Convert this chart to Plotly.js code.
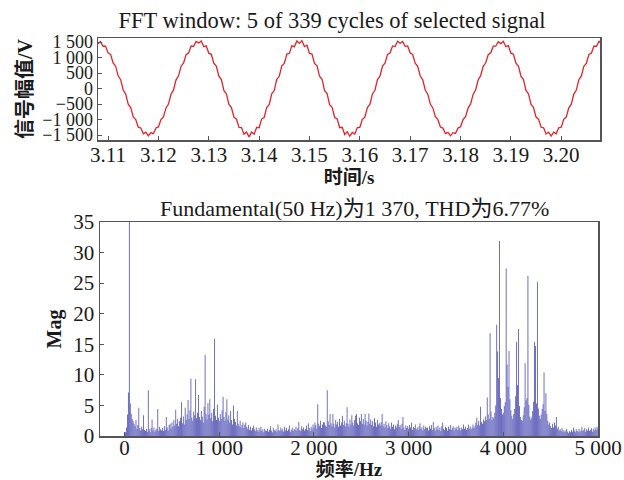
<!DOCTYPE html>
<html>
<head>
<meta charset="utf-8">
<script src="https://cdn.plot.ly/plotly-3.0.1.min.js"></script>
<style>html,body{margin:0;padding:0;background:#fff;}#chart{width:624px;height:480px;}</style>
</head>
<body>
<div id="chart"></div>
<script>
// ---- Top panel: time signal (sampled every 0.5 ms from 3.108 s) ----
var signalStart = 3.108;
var signalStep = 0.0005;
var signalVolts = [
  1440, 1515, 1365, 1370, 1150, 1100, 825, 720, 410, 285, -50, -180, -505, -620, -915, -1000, -1245, -1270, -1460, -1410,
  -1530, -1420, -1455, -1270, -1240, -1000, -915, -625, -500, -185, -45, 280, 410, 720, 825, 1095, 1150, 1370, 1360, 1520,
  1470, 1530, 1350, 1380, 1140, 1105, 815, 725, 400, 290, -60, -175, -510, -615, -925, -990, -1255, -1260, -1470, -1400,
  -1560, -1405, -1475, -1255, -1265, -985, -935, -610, -520, -170, -65, 295, 395, 730, 810, 1110, 1135, 1385, 1345, 1535,
  1455, 1545, 1355, 1395, 1135, 1115, 810, 735, 395, 300, -70, -165, -520, -605, -935, -980, -1265, -1250, -1480, -1395,
  -1540, -1415, -1465, -1260, -1250, -995, -925, -615, -510, -175, -55, 290, 400, 725, 815, 1100, 1145, 1375, 1355, 1525,
  1460, 1520, 1360, 1375, 1145, 1100, 820, 715, 405, 280, -55, -185, -500, -625, -910, -1005, -1240, -1275, -1455, -1415,
  -1525, -1425, -1450, -1275, -1235, -1005, -910, -630, -495, -190, -40, 275, 415, 715, 830, 1090, 1155, 1365, 1365, 1510,
  1450, 1525, 1350, 1385, 1140, 1110, 815, 725, 400, 290, -60, -175, -510, -615, -920, -995, -1250, -1265, -1465, -1405,
  -1535, -1410, -1460, -1265, -1245, -995, -920, -620, -505, -180, -50, 285, 405, 720, 820, 1100, 1145, 1370, 1360, 1525,
  1460
];
var timeTicks = [3.11, 3.12, 3.13, 3.14, 3.15, 3.16, 3.17, 3.18, 3.19, 3.20];
var voltTicks = [-1500, -1000, -500, 0, 500, 1000, 1500];

// ---- Bottom panel: FFT magnitude, 10 Hz bins from 0 Hz ----
var binStart = 0;
var binWidthHz = 10;
var fftMag = [
  0, 0.6, 1.4, 3.5, 7.1, 1370, 5.3, 3.6, 2.8, 2.4,
  2.0, 1.6, 2.6, 1.2, 1.8, 4.6, 1.3, 0.9, 1.5, 1.1,
  3.4, 1.0, 0.8, 1.2, 0.7, 7.5, 1.1, 0.6, 1.3, 2.7,
  0.9, 1.4, 0.7, 1.0, 1.2, 4.4, 0.8, 1.5, 1.1, 0.9,
  1.3, 0.8, 1.6, 1.0, 3.1, 1.4, 0.9, 1.8, 2.0, 1.2,
  2.2, 1.5, 2.6, 1.7, 4.3, 2.0, 2.8, 1.6, 2.4, 3.0,
  5.5, 2.1, 3.2, 1.9, 4.6, 2.6, 3.5, 5.9, 2.8, 4.2,
  9.4, 3.0, 2.5, 4.0, 3.4, 9.3, 2.9, 3.8, 6.7, 3.1,
  2.6, 4.1, 3.2, 2.2, 4.8, 13.3, 3.6, 2.7, 5.4, 3.5,
  6.0, 2.9, 3.8, 2.4, 4.4, 15.9, 3.3, 2.6, 5.1, 3.0,
  2.4, 3.6, 2.8, 4.2, 6.4, 3.1, 2.5, 3.9, 6.0, 2.7,
  3.4, 2.2, 4.1, 2.6, 1.9, 5.0, 2.8, 2.3, 1.7, 4.1,
  2.0, 1.6, 2.5, 1.4, 1.8, 2.2, 1.3, 1.9, 2.2, 1.5,
  1.2, 1.8, 1.0, 1.5, 0.9, 1.3, 1.7, 1.1, 0.8, 1.4,
  1.0, 0.7, 1.3, 0.9, 1.5, 0.8, 1.1, 0.6, 1.2, 0.9,
  0.8, 1.2, 0.7, 1.0, 1.6, 0.9, 0.6, 1.3, 1.0, 0.8,
  1.1, 0.7, 1.9, 1.0, 0.8, 1.4, 0.9, 1.2, 0.7, 1.5,
  0.9, 1.3, 0.8, 1.1, 1.7, 0.7, 1.0, 1.4, 0.8, 1.2,
  1.0, 1.5, 0.9, 1.3, 2.3, 1.0, 0.8, 1.6, 1.1, 1.4,
  0.9, 1.2, 1.7, 1.0, 2.1, 1.3, 0.8, 1.5, 1.1, 1.9,
  1.4, 2.2, 1.8, 1.2, 5.2, 2.0, 1.6, 2.5, 1.3, 1.9,
  2.3, 2.2, 1.7, 1.5, 7.5, 2.4, 1.8, 3.6, 2.1, 1.6,
  3.6, 2.0, 1.4, 2.6, 1.9, 2.3, 1.5, 2.8, 1.7, 2.2,
  3.3, 1.8, 2.5, 1.6, 2.1, 4.7, 2.0, 1.5, 2.7, 1.9,
  3.4, 2.2, 1.7, 2.6, 3.3, 3.6, 2.1, 1.8, 3.0, 2.4,
  3.6, 2.0, 2.8, 1.9, 3.6, 2.5, 1.7, 2.3, 3.7, 2.0,
  2.7, 1.8, 2.4, 1.6, 2.9, 2.2, 1.5, 2.6, 1.9, 2.1,
  1.7, 2.3, 3.6, 1.6, 2.0, 1.4, 2.4, 1.8, 1.3, 2.1,
  1.6, 1.2, 2.2, 1.5, 1.9, 1.1, 1.7, 1.4, 2.0, 2.6,
  1.5, 1.8, 1.2, 2.0, 3.1, 1.4, 1.0, 1.7, 1.3, 1.6,
  1.2, 1.8, 1.4, 2.2, 1.0, 1.5, 1.3, 1.9, 1.1, 1.4,
  1.0, 1.6, 2.1, 1.2, 1.4, 0.9, 1.7, 1.1, 1.5, 1.3,
  1.4, 0.9, 1.6, 1.2, 1.8, 1.0, 2.3, 1.3, 0.9, 1.5,
  1.1, 1.7, 1.0, 1.4, 0.8, 1.6, 2.2, 1.2, 1.0, 1.5,
  1.3, 0.9, 1.5, 1.1, 1.8, 1.0, 1.3, 1.6, 0.9, 1.4,
  1.2, 1.5, 1.0, 1.7, 1.3, 0.9, 1.4, 1.1, 1.9, 1.2,
  1.5, 1.0, 1.3, 1.9, 1.2, 1.6, 1.1, 1.4, 1.9, 1.3,
  1.6, 2.2, 3.0, 1.8, 2.5, 1.7, 4.8, 2.3, 2.0, 2.7,
  2.4, 3.2, 2.6, 6.3, 3.5, 2.8, 16.8, 4.0, 2.6, 3.1,
  2.9, 3.8, 5.0, 18.2, 13.8, 9.5, 31.9, 6.2, 4.4, 3.5,
  3.8, 4.9, 5.5, 27.4, 11.7, 8.0, 13.9, 6.0, 4.2, 3.3,
  2.8, 3.6, 4.4, 6.5, 15.4, 8.3, 17.5, 4.9, 3.1, 2.6,
  2.5, 3.4, 4.7, 11.9, 5.8, 6.2, 26.2, 5.1, 3.2, 2.7,
  3.0, 4.1, 5.6, 15.4, 14.7, 5.3, 25.2, 4.5, 3.3, 2.8,
  3.5, 4.4, 5.2, 10.4, 4.1, 7.0, 3.6, 2.5, 1.9, 2.2,
  1.6, 1.3, 2.0, 1.4, 2.2, 1.7, 3.1, 1.2, 1.5, 0.9,
  1.1, 0.8, 1.3, 0.7, 1.0, 0.6, 0.9, 1.2, 0.7, 0.5,
  0.8, 0.6, 1.0, 0.7, 1.4, 0.9, 0.6, 1.1, 0.8, 0.7,
  1.2, 0.7, 0.9, 1.5, 0.8, 1.0, 1.3, 0.7, 1.1, 0.9,
  1.4, 0.8, 1.0, 1.3, 0.7, 1.2, 0.9, 1.4, 1.0, 1.5,
  1.2
];
var freqTicks = [0, 1000, 2000, 3000, 4000, 5000];
var magTicks = [0, 5, 10, 15, 20, 25, 30, 35];

var topTitle = 'FFT window: 5 of 339 cycles of selected signal';
var bottomTitle = 'Fundamental(50 Hz)为1 370, THD为6.77%';

var serif = 'Liberation Serif, Times New Roman, Noto Sans CJK SC, serif';
var cjkBold = 'Liberation Serif, Noto Sans CJK SC, serif';
var ink = '#1a1a1a';
var frame = '#555555';

var traces = [
  {
    type: 'scatter', mode: 'lines',
    x0: signalStart, dx: signalStep, y: signalVolts,
    xaxis: 'x', yaxis: 'y',
    line: {color: 'rgb(226,36,40)', width: 1.3},
    hoverinfo: 'x+y'
  },
  {
    type: 'bar',
    x0: binStart, dx: binWidthHz, y: fftMag,
    xaxis: 'x2', yaxis: 'y2',
    marker: {color: 'rgb(88,88,184)', line: {width: 0}},
    hoverinfo: 'x+y'
  }
];

var axisCommon = {
  showgrid: false, zeroline: false,
  showline: true, linecolor: frame, linewidth: 1.5, mirror: true,
  ticks: 'inside', ticklen: 4, tickcolor: frame, tickwidth: 1,
  tickfont: {family: serif, size: 18, color: ink}
};

var layout = {
  width: 624, height: 480,
  margin: {l: 0, r: 0, t: 0, b: 0},
  paper_bgcolor: '#ffffff', plot_bgcolor: '#ffffff',
  showlegend: false,
  separators: '. ',
  bargap: 0.1,
  title: {
    text: topTitle,
    font: {family: serif, size: 22.5, color: ink},
    x: 332 / 624, xref: 'paper', xanchor: 'center',
    y: 1 - 20 / 480, yref: 'container', yanchor: 'middle'
  },
  xaxis: Object.assign({}, axisCommon, {
    domain: [98 / 624, 600 / 624], anchor: 'y',
    range: [3.108, 3.2077],
    tickvals: timeTicks, tickformat: '.2f',
    tickfont: {family: serif, size: 21, color: ink},
    ticklabelstandoff: -5,
    title: {text: '<b>时间/s</b>', font: {family: cjkBold, size: 19, color: ink}, standoff: 0}
  }),
  yaxis: Object.assign({}, axisCommon, {
    domain: [1 - 140 / 480, 1 - 38 / 480], anchor: 'x',
    range: [-1660, 1630],
    tickvals: voltTicks, tickformat: ',d',
    title: {text: '<b>信号幅值/V</b>', font: {family: cjkBold, size: 20, color: ink}, standoff: 4}
  }),
  xaxis2: Object.assign({}, axisCommon, {
    domain: [100 / 624, 598 / 624], anchor: 'y2',
    range: [-260, 5000],
    tickvals: freqTicks, tickformat: ',d',
    tickfont: {family: serif, size: 21, color: ink},
    ticklabelstandoff: -8,
    title: {text: '<b>频率/Hz</b>', font: {family: cjkBold, size: 19, color: ink}, standoff: 0}
  }),
  yaxis2: Object.assign({}, axisCommon, {
    domain: [1 - 436 / 480, 1 - 222 / 480], anchor: 'x2',
    range: [0, 35],
    tickvals: magTicks,
    tickfont: {family: serif, size: 21, color: ink},
    title: {text: '<b>Mag</b>', font: {family: serif, size: 20, color: ink}, standoff: 6}
  }),
  annotations: [
    {
      text: bottomTitle, showarrow: false,
      xref: 'paper', yref: 'paper',
      x: 354 / 624, y: 1 - 208 / 480, xanchor: 'center', yanchor: 'middle',
      font: {family: serif, size: 22, color: ink}
    }
  ]
};

Plotly.newPlot('chart', traces, layout, {staticPlot: true, displayModeBar: false});
</script>
</body>
</html>
